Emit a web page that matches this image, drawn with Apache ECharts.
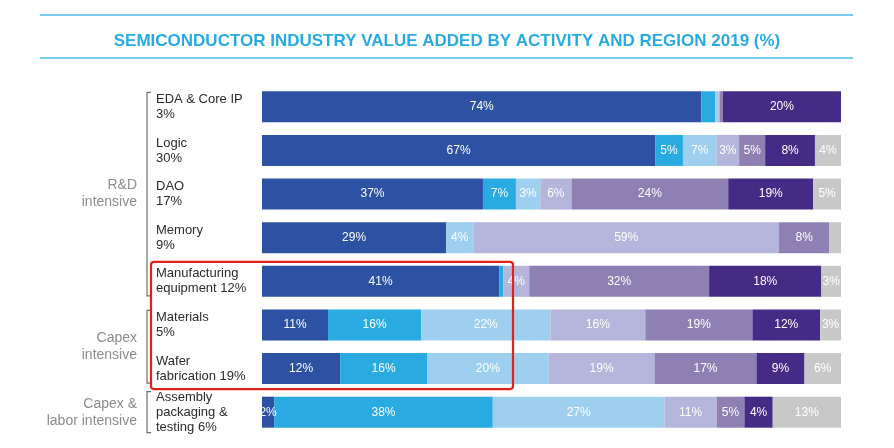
<!DOCTYPE html>
<html>
<head>
<meta charset="utf-8">
<script src="https://cdn.jsdelivr.net/npm/echarts@6/dist/echarts.min.js"></script>
<style>
  html, body { margin: 0; padding: 0; background: #fff; }
  #chart { width: 894px; height: 448px; }
</style>
</head>
<body>
<div id="chart"></div>
<script>
// activities (top to bottom) with their share of total value added
const categories = [
  'EDA & Core IP\n3%',
  'Logic\n30%',
  'DAO\n17%',
  'Memory\n9%',
  'Manufacturing\nequipment 12%',
  'Materials\n5%',
  'Wafer\nfabrication 19%',
  'Assembly\npackaging &\ntesting 6%'
];

// segment shares as drawn (each row ~100)
const usa = [75.9, 67.9, 38.2, 31.8, 41.0, 11.4, 13.5, 2.1];
const korea = [2.4, 4.8, 5.7, 0, 0.7, 16.1, 15.0, 37.8];
const japan = [0.5, 5.8, 4.2, 4.7, 0, 22.3, 21.0, 29.7];
const taiwan = [0.3, 3.9, 5.4, 52.8, 4.5, 16.4, 18.3, 9.0];
const china = [0.5, 4.5, 27.1, 8.7, 31.1, 18.5, 17.6, 4.8];
const europe = [20.4, 8.6, 14.7, 0, 19.4, 11.7, 8.3, 4.9];
const other = [0, 4.5, 4.8, 2.0, 3.4, 3.6, 6.3, 11.8];

// percentages printed on the segments (null = no label)
const usaLbl = [74, 67, 37, 29, 41, 11, 12, 2];
const koreaLbl = [null, 5, 7, null, null, 16, 16, 38];
const japanLbl = [null, 7, 3, 4, null, 22, 20, 27];
const taiwanLbl = [null, 3, 6, 59, 4, 16, 19, 11];
const chinaLbl = [null, 5, 24, 8, 32, 19, 17, 5];
const europeLbl = [20, 8, 19, null, 18, 12, 9, 4];
const otherLbl = [null, 4, 5, null, 3, 3, 6, 13];

// group brackets on the left: [label, first row, last row]
const groups = [
  ['R&D\nintensive', 0, 4],
  ['Capex\nintensive', 5, 6],
  ['Capex &\nlabor intensive', 7, 7]
];

const layers = [
  { name: 'USA', data: usa, lbl: usaLbl, color: '#2d52a3' },
  { name: 'Korea', data: korea, lbl: koreaLbl, color: '#29aae1' },
  { name: 'Japan', data: japan, lbl: japanLbl, color: '#9ecfee' },
  { name: 'Taiwan', data: taiwan, lbl: taiwanLbl, color: '#b3b6da' },
  { name: 'China', data: china, lbl: chinaLbl, color: '#8f80b3' },
  { name: 'Europe', data: europe, lbl: europeLbl, color: '#452b85' },
  { name: 'Other', data: other, lbl: otherLbl, color: '#c8c8c8' }
];

const rowSum = categories.map((c, i) => layers.reduce((s, l) => s + l.data[i], 0));
const BAR_H = 31;

const chart = echarts.init(document.getElementById('chart'));

chart.setOption({
  animation: false,
  backgroundColor: '#fff',
  title: {
    text: 'SEMICONDUCTOR INDUSTRY VALUE ADDED BY ACTIVITY AND REGION 2019 (%)',
    left: 'center',
    top: 28,
    textStyle: {
      color: '#29abe2',
      fontSize: 17,
      fontWeight: 'bold',
      fontFamily: 'Liberation Sans'
    }
  },
  grid: { left: 262, right: 53, top: 85, bottom: 14 },
  xAxis: {
    type: 'value',
    min: 0,
    max: 100,
    show: false
  },
  yAxis: {
    type: 'category',
    data: categories,
    inverse: true,
    axisLine: { show: false },
    axisTick: { show: false },
    axisLabel: {
      align: 'left',
      margin: 106,
      color: '#2b2b2b',
      fontSize: 13,
      lineHeight: 15,
      fontFamily: 'Liberation Sans'
    }
  },
  series: layers.map((l) => {
    return {
      name: l.name,
      type: 'bar',
      stack: 'total',
      barWidth: BAR_H,
      itemStyle: { color: l.color },
      label: {
        show: true,
        position: 'inside',
        color: '#fff',
        fontSize: 12,
        fontFamily: 'Liberation Sans',
        formatter: (p) => (l.lbl[p.dataIndex] == null ? '' : l.lbl[p.dataIndex] + '%')
      },
      data: l.data.map((v, i) => v / rowSum[i] * 100)
    };
  })
});

// decorations tied to the category axis
const rowTop = (i) => chart.convertToPixel({ yAxisIndex: 0 }, i) - BAR_H / 2;
const graphics = [
  { type: 'line', shape: { x1: 40, y1: 15, x2: 853, y2: 15 }, style: { stroke: '#4cb9ea', lineWidth: 1.5 } },
  { type: 'line', shape: { x1: 40, y1: 58, x2: 853, y2: 58 }, style: { stroke: '#4cb9ea', lineWidth: 1.5 } }
];
groups.forEach((g) => {
  const single = g[1] === g[2];
  const y1 = rowTop(g[1]) + (single ? -5 : 1);
  const y2 = rowTop(g[2]) + BAR_H + (single ? 5 : -1);
  graphics.push({
    type: 'polyline',
    shape: { points: [[151, y1], [147, y1], [147, y2], [151, y2]] },
    style: { stroke: '#6f6f6f', lineWidth: 1.2, fill: null }
  });
  graphics.push({
    type: 'text',
    x: 137,
    y: (y1 + y2) / 2,
    style: {
      text: g[0],
      align: 'right',
      verticalAlign: 'middle',
      fill: '#8c8c8c',
      fontSize: 14,
      lineHeight: 17,
      fontFamily: 'Liberation Sans'
    }
  });
});
// highlighted rows
const hlTop = rowTop(4) - 4;
const hlBottom = rowTop(6) + BAR_H + 5;
graphics.push({
  type: 'rect',
  shape: { x: 151, y: hlTop, width: 362, height: hlBottom - hlTop, r: 3 },
  style: { stroke: '#e3211c', lineWidth: 2.2, fill: null },
  z: 100
});
chart.setOption({ graphic: graphics });
</script>
</body>
</html>
